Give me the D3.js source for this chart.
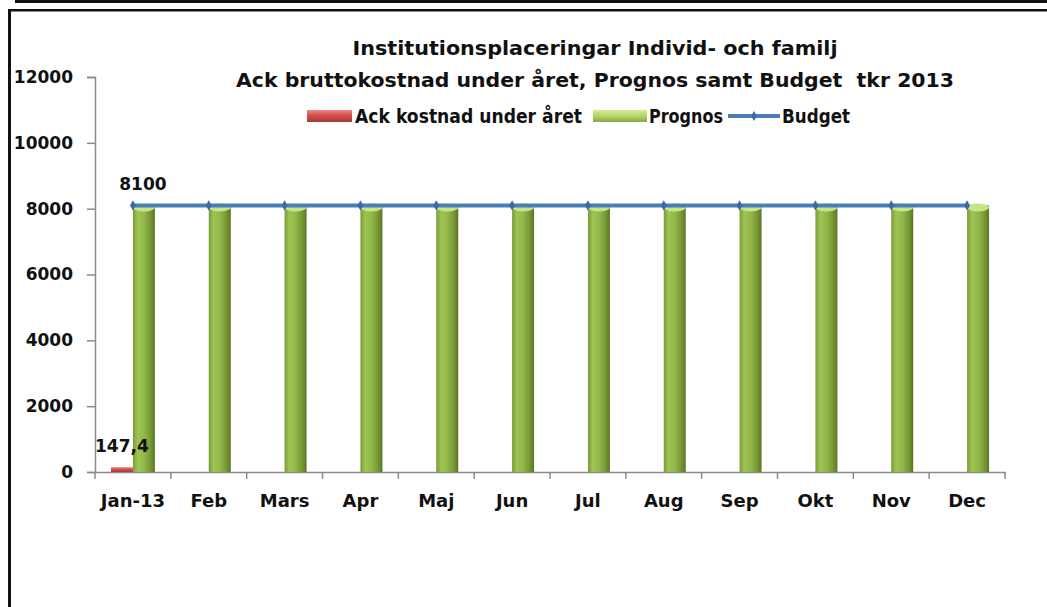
<!DOCTYPE html>
<html>
<head>
<meta charset="utf-8">
<script src="https://cdn.jsdelivr.net/npm/d3@7"></script>
<style>
  body { margin: 0; background: #fff; }
  text { font-family: "DejaVu Sans", sans-serif; font-weight: bold; fill: #111; }
</style>
</head>
<body>
<div id="chart"></div>
<script>
// chart data
const months = ['Jan-13', 'Feb', 'Mars', 'Apr', 'Maj', 'Jun', 'Jul', 'Aug', 'Sep', 'Okt', 'Nov', 'Dec'];
const ackKostnad = [147.4, null, null, null, null, null, null, null, null, null, null, null];
const prognos = [8100, 8100, 8100, 8100, 8100, 8100, 8100, 8100, 8100, 8100, 8100, 8100];
const budget = [8100, 8100, 8100, 8100, 8100, 8100, 8100, 8100, 8100, 8100, 8100, 8100];
const yTicks = [0, 2000, 4000, 6000, 8000, 10000, 12000];
const titleLines = ['Institutionsplaceringar Individ- och familj', 'Ack bruttokostnad under året, Prognos samt Budget  tkr 2013'];
const legendLabels = ['Ack kostnad under året', 'Prognos', 'Budget'];

const W = 1047, H = 607;
const plot = { left: 95, right: 1005, top: 77, bottom: 472 };

const svg = d3.select('#chart').append('svg')
    .attr('width', W)
    .attr('height', H);

// gradients for the 3d-looking bars
const defs = svg.append('defs');
const green = defs.append('linearGradient').attr('id', 'gGreen').attr('x1', 0).attr('x2', 1).attr('y1', 0).attr('y2', 0);
[[0, '#7a9a36'], [0.22, '#9fc455'], [0.5, '#92b84a'], [0.8, '#779734'], [1, '#5b7624']].forEach(s =>
    green.append('stop').attr('offset', s[0]).attr('stop-color', s[1]));
const red = defs.append('linearGradient').attr('id', 'gRed').attr('x1', 0).attr('x2', 0).attr('y1', 0).attr('y2', 1);
[[0, '#f08a86'], [0.4, '#d9534f'], [1, '#a33a36']].forEach(s =>
    red.append('stop').attr('offset', s[0]).attr('stop-color', s[1]));
const greenLeg = defs.append('linearGradient').attr('id', 'gGreenLeg').attr('x1', 0).attr('x2', 0).attr('y1', 0).attr('y2', 1);
[[0, '#d4ec94'], [0.5, '#b4d66a'], [1, '#86a83f']].forEach(s =>
    greenLeg.append('stop').attr('offset', s[0]).attr('stop-color', s[1]));

// page frame lines
svg.append('rect').attr('x', 15).attr('y', 0).attr('width', W - 15).attr('height', 3).attr('fill', '#111');
svg.append('rect').attr('x', 8).attr('y', 9).attr('width', W - 8).attr('height', 2.5).attr('fill', '#111');
svg.append('rect').attr('x', 8).attr('y', 9).attr('width', 3).attr('height', H - 9).attr('fill', '#111');

// scales
const x = d3.scaleBand().domain(months).range([plot.left, plot.right]).padding(0);
const groupW = x.bandwidth() * 0.58;
const xSub = d3.scaleBand().domain(['ack', 'prognos']).range([0, groupW]);
const y = d3.scaleLinear().domain([0, 12000]).range([plot.bottom, plot.top]);
const groupX = m => x(m) + (x.bandwidth() - groupW) / 2;

// y axis
const yAxis = svg.append('g')
    .attr('transform', `translate(${plot.left},0)`)
    .call(d3.axisLeft(y).tickValues(yTicks).tickSize(8).tickPadding(14).tickFormat(d3.format('d')));
yAxis.select('.domain').attr('stroke', '#8a8a8a').attr('stroke-width', 1.5);
yAxis.selectAll('.tick line').attr('stroke', '#8a8a8a').attr('stroke-width', 1.5);
yAxis.selectAll('.tick text').attr('font-size', 17).attr('font-family', null).attr('fill', '#111');

// x axis: labels at centres, ticks on category boundaries
const xAxis = svg.append('g')
    .attr('transform', `translate(0,${plot.bottom})`)
    .call(d3.axisBottom(x).tickSize(0).tickSizeOuter(0).tickPadding(22));
xAxis.select('.domain').attr('stroke', '#8a8a8a').attr('stroke-width', 1.5);
xAxis.selectAll('.tick text').attr('font-size', 18).attr('font-family', null).attr('fill', '#111');
xAxis.selectAll('.bound')
    .data(months.concat(['end']))
    .enter().append('line')
    .attr('class', 'bound')
    .attr('x1', (d, i) => i < months.length ? x(d) : plot.right)
    .attr('x2', (d, i) => i < months.length ? x(d) : plot.right)
    .attr('y1', 0).attr('y2', 7)
    .attr('stroke', '#8a8a8a').attr('stroke-width', 1.5);

// Ack kostnad bars
const ackData = months.map((m, i) => ({ m, v: ackKostnad[i] })).filter(d => d.v != null);
svg.selectAll('.ack')
    .data(ackData)
    .enter().append('rect')
    .attr('class', 'ack')
    .attr('x', d => groupX(d.m) + xSub('ack'))
    .attr('y', d => y(d.v))
    .attr('width', xSub.bandwidth())
    .attr('height', d => y(0) - y(d.v))
    .attr('fill', 'url(#gRed)');

// Prognos bars (cylinder style)
const progData = months.map((m, i) => ({ m, v: prognos[i] }));
svg.selectAll('.prog')
    .data(progData)
    .enter().append('rect')
    .attr('class', 'prog')
    .attr('x', d => groupX(d.m) + xSub('prognos'))
    .attr('y', d => y(d.v))
    .attr('width', xSub.bandwidth())
    .attr('height', d => y(0) - y(d.v))
    .attr('fill', 'url(#gGreen)');
svg.selectAll('.cap')
    .data(progData)
    .enter().append('ellipse')
    .attr('class', 'cap')
    .attr('cx', d => groupX(d.m) + xSub('prognos') + xSub.bandwidth() / 2)
    .attr('cy', d => y(d.v) + 2)
    .attr('rx', xSub.bandwidth() / 2)
    .attr('ry', 4)
    .attr('fill', '#c9e486');

// Budget line
const budData = months.map((m, i) => ({ m, v: budget[i] }));
const line = d3.line()
    .x(d => x(d.m) + x.bandwidth() / 2)
    .y(d => y(d.v));
svg.append('path')
    .datum(budData)
    .attr('fill', 'none')
    .attr('stroke', '#4a7ebb')
    .attr('stroke-width', 4)
    .attr('d', line);
svg.selectAll('.dmd')
    .data(budData)
    .enter().append('path')
    .attr('class', 'dmd')
    .attr('transform', d => `translate(${x(d.m) + x.bandwidth() / 2},${y(d.v)})`)
    .attr('d', d3.symbol(d3.symbolDiamond, 30))
    .attr('fill', '#3b6aa6');

// data labels
svg.append('text')
    .attr('x', x(months[0]) + x.bandwidth() / 2 + 10)
    .attr('y', y(budget[0]) - 15)
    .attr('text-anchor', 'middle')
    .attr('font-size', 17)
    .text(d3.format('d')(budget[0]));
svg.append('text')
    .attr('x', groupX(months[0]) + xSub('ack') + xSub.bandwidth() / 2)
    .attr('y', y(ackKostnad[0]) - 15)
    .attr('text-anchor', 'middle')
    .attr('font-size', 17)
    .text(String(ackKostnad[0]).replace('.', ','));

// title
const titleW = [485, 718];
svg.selectAll('.title')
    .data(titleLines)
    .enter().append('text')
    .attr('class', 'title')
    .attr('x', 595)
    .attr('y', (d, i) => 55 + i * 32)
    .attr('text-anchor', 'middle')
    .attr('font-size', 20)
    .style('white-space', 'pre')
    .attr('textLength', (d, i) => titleW[i])
    .attr('lengthAdjust', 'spacingAndGlyphs')
    .text(d => d);

// legend
const leg = svg.append('g').attr('transform', 'translate(0,116)');
leg.append('rect').attr('x', 307).attr('y', -6).attr('width', 45).attr('height', 12).attr('fill', 'url(#gRed)');
leg.append('text').attr('x', 355).attr('y', 7).attr('font-size', 19)
    .attr('textLength', 227).attr('lengthAdjust', 'spacingAndGlyphs').text(legendLabels[0]);
leg.append('rect').attr('x', 593).attr('y', -6).attr('width', 54).attr('height', 12).attr('fill', 'url(#gGreenLeg)');
leg.append('text').attr('x', 649).attr('y', 7).attr('font-size', 19)
    .attr('textLength', 74).attr('lengthAdjust', 'spacingAndGlyphs').text(legendLabels[1]);
leg.append('line').attr('x1', 728).attr('x2', 780).attr('y1', 0).attr('y2', 0).attr('stroke', '#4a7ebb').attr('stroke-width', 4);
leg.append('path').attr('transform', 'translate(754,0)').attr('d', d3.symbol(d3.symbolDiamond, 30)).attr('fill', '#3b6aa6');
leg.append('text').attr('x', 782).attr('y', 7).attr('font-size', 19)
    .attr('textLength', 68).attr('lengthAdjust', 'spacingAndGlyphs').text(legendLabels[2]);
</script>
</body>
</html>
